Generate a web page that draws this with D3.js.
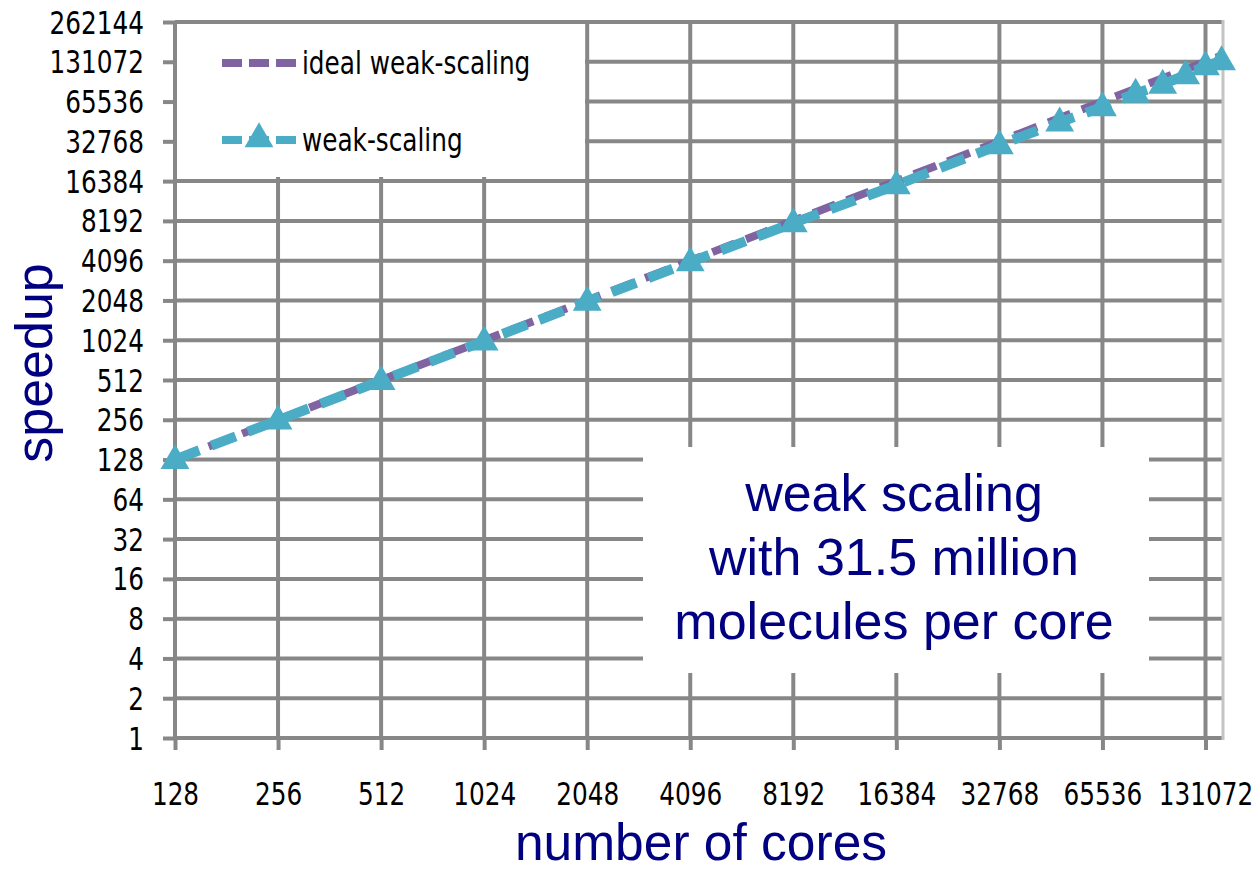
<!DOCTYPE html>
<html>
<head>
<meta charset="utf-8">
<script src="https://cdn.jsdelivr.net/npm/d3@7"></script>
<style>
  html, body { margin: 0; padding: 0; background: #fff; }
  svg { display: block; }
  .tick text, .legend text { font-family: "DejaVu Sans Condensed", "DejaVu Sans", sans-serif; font-stretch: condensed; font-size: 27.5px; fill: #000; }
</style>
</head>
<body>
<svg id="chart" width="1253" height="871"></svg>
<script>
// Core counts on the horizontal axis (tick labels) and speedup ticks
const coreTicks = [128, 256, 512, 1024, 2048, 4096, 8192, 16384, 32768, 65536, 131072];
const speedupTicks = [1, 2, 4, 8, 16, 32, 64, 128, 256, 512, 1024, 2048, 4096, 8192, 16384, 32768, 65536, 131072, 262144];
const coreExtent = [128, 147456];

// Measured runs
const cores   = [128, 256, 512, 1024, 2048, 4096, 8192, 16384, 32768, 49152, 65536, 81920, 98304, 114688, 131072, 146016];
const speedup = [128, 254, 506, 1008, 2010, 4000, 7900, 15300, 30800, 45700, 59700, 75400, 88500, 104400, 121900, 132900];

// Ideal weak scaling: speedup equals number of cores
const idealCores   = [128, 146016];
const idealSpeedup = [128, 146016];

const svg = d3.select("#chart");
const plotLeft = 175, plotRight = 1223, plotTop = 22, plotBottom = 738;

const x = d3.scaleLog().base(2).domain(coreExtent).range([plotLeft, plotRight]);
const y = d3.scaleLog().base(2).domain([1, 262144]).range([plotBottom, plotTop]);

const gridColor = "#878787";
const gridW = 4;

// Grid
const grid = svg.append("g");
grid.selectAll("line.h").data(speedupTicks).join("line")
  .attr("class", "h")
  .attr("x1", plotLeft).attr("x2", plotRight)
  .attr("y1", d => y(d)).attr("y2", d => y(d))
  .attr("stroke", gridColor).attr("stroke-width", gridW);
grid.selectAll("line.v").data(coreTicks).join("line")
  .attr("class", "v")
  .attr("x1", d => x(d)).attr("x2", d => x(d))
  .attr("y1", plotTop).attr("y2", plotBottom)
  .attr("stroke", gridColor).attr("stroke-width", gridW);
// Right frame edge
grid.append("line")
  .attr("x1", plotRight).attr("x2", plotRight).attr("y1", plotTop - 2).attr("y2", plotBottom + 2)
  .attr("stroke", "#c4c4c4").attr("stroke-width", 3);

// Axes (outer tick stubs and labels)
const yAxis = svg.append("g").attr("transform", `translate(${plotLeft},0)`)
  .call(d3.axisLeft(y).tickValues(speedupTicks).tickFormat(d3.format("d")).tickSize(12));
const xAxis = svg.append("g").attr("transform", `translate(0,${plotBottom})`)
  .call(d3.axisBottom(x).tickValues(coreTicks).tickFormat(d3.format("d")).tickSize(12));
[yAxis, xAxis].forEach(a => {
  a.select(".domain").remove();
  a.selectAll(".tick line").attr("stroke", gridColor).attr("stroke-width", gridW);
});
// Tall, narrow tick lettering
yAxis.selectAll(".tick text").attr("x", 0).attr("dy", 0)
  .attr("transform", "translate(-31,11) scale(1,1.15)");
xAxis.selectAll(".tick text").attr("y", 0).attr("dy", 0)
  .attr("transform", "translate(0,67) scale(1,1.15)");

// White panels for legend and annotation
svg.append("rect").attr("x", plotLeft + 2).attr("y", plotTop + 2).attr("width", 408).attr("height", 153).attr("fill", "#fff");
svg.append("rect").attr("x", 643).attr("y", 447).attr("width", 506).attr("height", 226).attr("fill", "#fff");

const purple = "#8064A2", cyan = "#4BACC6";

const line = d3.line().x(d => x(d[0])).y(d => y(d[1]));

// Ideal line
svg.append("path")
  .datum(idealCores.map((c, i) => [c, idealSpeedup[i]]))
  .attr("d", line).attr("fill", "none")
  .attr("stroke", purple).attr("stroke-width", 8).attr("stroke-dasharray", "24,12");

// Measured line
svg.append("path")
  .datum(cores.map((c, i) => [c, speedup[i]]))
  .attr("d", line).attr("fill", "none")
  .attr("stroke", cyan).attr("stroke-width", 10).attr("stroke-dasharray", "26,13");

// Triangle markers
const tri = d3.symbol().type(d3.symbolTriangle).size(360);
svg.selectAll("path.mk").data(cores.map((c, i) => [c, speedup[i]])).join("path")
  .attr("class", "mk")
  .attr("d", tri)
  .attr("transform", d => `translate(${x(d[0])},${y(d[1]) + 1})`)
  .attr("fill", cyan);

// Legend
const lg = svg.append("g").attr("class", "legend");
lg.append("line").attr("x1", 222).attr("x2", 296).attr("y1", 63).attr("y2", 63)
  .attr("stroke", purple).attr("stroke-width", 8).attr("stroke-dasharray", "20,7");
lg.append("text").attr("transform", "translate(302,74) scale(1,1.15)").text("ideal weak-scaling");
lg.append("line").attr("x1", 222).attr("x2", 296).attr("y1", 140).attr("y2", 140)
  .attr("stroke", cyan).attr("stroke-width", 8).attr("stroke-dasharray", "20,7");
lg.append("path").attr("d", tri).attr("transform", "translate(259,139)").attr("fill", cyan);
lg.append("text").attr("transform", "translate(302,151) scale(1,1.15)").text("weak-scaling");

// Annotation
const navy = "#000080";
const note = ["weak scaling", "with 31.5 million", "molecules per core"];
svg.append("text")
  .attr("font-family", '"Liberation Sans", Arial, sans-serif').attr("font-size", 52).attr("fill", navy)
  .attr("text-anchor", "middle")
  .selectAll("tspan").data(note).join("tspan")
  .attr("x", 894).attr("y", (d, i) => 511 + i * 64).text(d => d);

// Axis titles
svg.append("text").attr("x", 701).attr("y", 860).attr("text-anchor", "middle")
  .attr("font-family", '"Liberation Sans", Arial, sans-serif').attr("font-size", 51.5).attr("fill", navy)
  .text("number of cores");
svg.append("text").attr("transform", "translate(52,363) rotate(-90)").attr("text-anchor", "middle")
  .attr("font-family", '"Liberation Sans", Arial, sans-serif').attr("font-size", 52).attr("fill", navy)
  .text("speedup");
</script>
</body>
</html>
